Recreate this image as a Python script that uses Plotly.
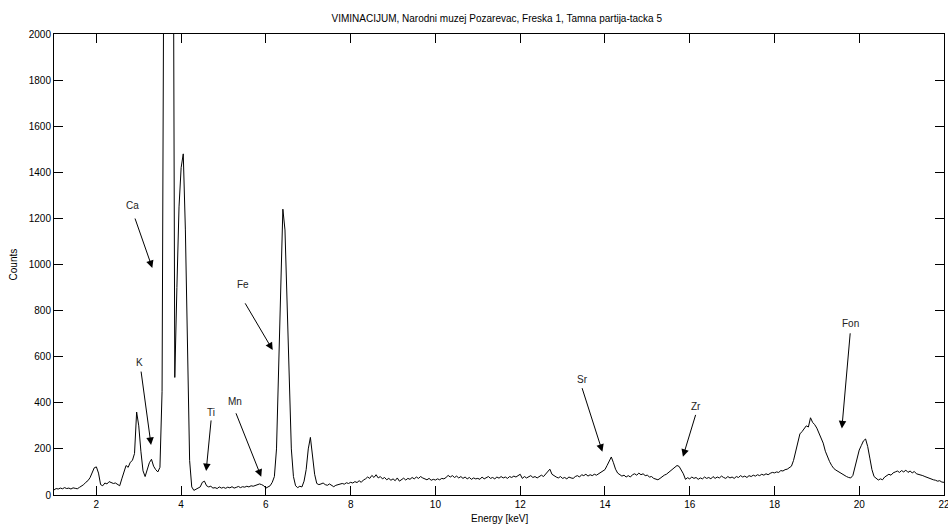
import plotly.graph_objects as go

# ---- data (counts every 0.05 keV, 1.00 .. 22.00 keV) ----
start_energy = 1.0
energy_step = 0.05

counts_01 = [22, 28, 26, 30, 27, 32, 28, 30, 26, 31, 29, 27, 33, 38, 45, 55, 62, 75, 100, 118]
counts_02 = [122, 95, 45, 40, 52, 48, 58, 55, 50, 52, 45, 40, 70, 105, 128, 120, 142, 150, 180, 360]
counts_03 = [300, 190, 105, 80, 110, 140, 155, 125, 110, 100, 120, 450, 2800, 5600, 7000, 5800, 3400, 510, 900, 1250]
counts_04 = [1420, 1480, 1150, 550, 150, 35, 20, 25, 30, 35, 55, 60, 40, 35, 38, 30, 32, 28, 35, 30]
counts_05 = [33, 29, 34, 31, 36, 30, 33, 37, 32, 36, 34, 38, 35, 40, 38, 42, 45, 48, 45, 40]
counts_06 = [30, 35, 40, 55, 80, 200, 520, 950, 1240, 1150, 800, 450, 200, 80, 40, 32, 38, 35, 60, 110]
counts_07 = [200, 250, 180, 90, 50, 45, 48, 52, 45, 42, 48, 40, 36, 42, 45, 48, 50, 47, 53, 50]
counts_08 = [55, 52, 58, 54, 62, 55, 65, 70, 78, 72, 85, 76, 88, 74, 80, 70, 76, 66, 72, 64]
counts_09 = [70, 62, 74, 60, 68, 73, 65, 72, 68, 76, 70, 78, 72, 80, 74, 70, 66, 72, 64, 68]
counts_10 = [65, 70, 66, 72, 70, 76, 85, 78, 84, 76, 82, 74, 80, 72, 78, 70, 76, 68, 74, 70]
counts_11 = [72, 68, 78, 70, 74, 80, 72, 76, 70, 78, 73, 80, 74, 78, 72, 80, 76, 82, 78, 86]
counts_12 = [90, 72, 80, 74, 78, 84, 76, 80, 74, 82, 86, 80, 92, 102, 112, 90, 82, 78, 74, 80]
counts_13 = [72, 76, 70, 78, 74, 72, 80, 84, 78, 88, 84, 90, 82, 88, 84, 90, 86, 92, 96, 104]
counts_14 = [110, 128, 148, 165, 140, 112, 95, 88, 82, 86, 78, 84, 78, 88, 92, 86, 95, 88, 92, 84]
counts_15 = [86, 78, 80, 72, 70, 66, 72, 80, 86, 90, 98, 104, 112, 118, 128, 124, 110, 92, 68, 75]
counts_16 = [70, 78, 72, 76, 68, 74, 70, 78, 72, 76, 70, 80, 72, 78, 74, 82, 76, 72, 80, 74]
counts_17 = [78, 72, 80, 76, 84, 78, 82, 76, 84, 80, 86, 82, 88, 84, 90, 86, 92, 88, 94, 98]
counts_18 = [96, 100, 98, 106, 104, 110, 112, 118, 125, 150, 185, 225, 265, 275, 290, 300, 295, 335, 315, 305]
counts_19 = [290, 270, 250, 225, 190, 165, 145, 128, 115, 108, 102, 95, 90, 84, 80, 76, 74, 85, 120, 160]
counts_20 = [195, 215, 235, 243, 210, 160, 110, 80, 72, 65, 70, 66, 78, 84, 90, 86, 96, 100, 104, 98]
counts_21 = [106, 100, 108, 98, 104, 96, 102, 92, 90, 86, 84, 80, 76, 74, 70, 66, 64, 60, 62, 56]
counts_22 = [55]

x_ticks = [2, 4, 6, 8, 10, 12, 14, 16, 18, 20, 22]
y_ticks = [0, 200, 400, 600, 800, 1000, 1200, 1400, 1600, 1800, 2000]

# peak labels: text position, arrow tail, arrow tip (data coordinates)
labels = ["Ca", "K", "Ti", "Mn", "Fe", "Sr", "Zr", "Fon"]
label_x = [2.86, 3.02, 4.71, 5.28, 5.47, 13.48, 16.14, 19.79]
label_y = [1258, 573, 360, 405, 915, 499, 383, 742]
tail_x = [2.90, 3.05, 4.71, 5.28, 5.49, 13.45, 16.15, 19.79]
tail_y = [1206, 542, 330, 361, 838, 470, 354, 708]
tip_x = [3.32, 3.29, 4.59, 5.89, 6.16, 13.94, 15.84, 19.59]
tip_y = [985, 217, 104, 79, 629, 188, 166, 289]

title_text = "VIMINACIJUM, Narodni muzej Pozarevac, Freska 1, Tamna partija-tacka 5"
x_title = "Energy [keV]"
y_title = "Counts"

# ---- build ----
counts = (counts_01 + counts_02 + counts_03 + counts_04 + counts_05 + counts_06 + counts_07
          + counts_08 + counts_09 + counts_10 + counts_11 + counts_12 + counts_13 + counts_14
          + counts_15 + counts_16 + counts_17 + counts_18 + counts_19 + counts_20 + counts_21
          + counts_22)
energy = [round(start_energy + energy_step * i, 2) for i in range(len(counts))]

font = "Liberation Sans, Arial, Helvetica, sans-serif"
x_range = [1, 22.0001]
y_range = [0, 2000]

fig = go.Figure()
fig.add_trace(go.Scatter(x=energy, y=counts, mode="lines",
                         line=dict(color="black", width=1), showlegend=False,
                         hoverinfo="x+y"))
# invisible companion trace so the top/right tick axes (box ticks) are drawn
fig.add_trace(go.Scatter(x=energy, y=counts, mode="lines", xaxis="x2", yaxis="y2",
                         line=dict(color="rgba(0,0,0,0)", width=0), showlegend=False,
                         hoverinfo="skip"))

annotations = []
for i, lab in enumerate(labels):
    annotations.append(dict(x=tip_x[i], y=tip_y[i], ax=tail_x[i], ay=tail_y[i],
                            xref="x", yref="y", axref="x", ayref="y",
                            text="", showarrow=True, arrowhead=2, arrowsize=1.5,
                            arrowwidth=1, arrowcolor="black", standoff=0, startstandoff=0))
    annotations.append(dict(x=label_x[i], y=label_y[i], xref="x", yref="y",
                            text=lab, showarrow=False, xanchor="center", yanchor="middle",
                            font=dict(family=font, size=10, color="#222")))

annotations.append(dict(x=0.5, y=-0.05, xref="paper", yref="paper", text=x_title,
                        showarrow=False, xanchor="center", yanchor="middle",
                        font=dict(family=font, size=10, color="black")))
annotations.append(dict(x=-0.045, y=0.5, xref="paper", yref="paper", text=y_title,
                        showarrow=False, xanchor="center", yanchor="middle", textangle=-90,
                        font=dict(family=font, size=10, color="black")))

axis_common = dict(showline=True, linecolor="black", linewidth=1, mirror=True,
                   ticks="inside", ticklen=9, tickcolor="black", tickwidth=1,
                   showgrid=False, zeroline=False, automargin=False,
                   ticklabeloverflow="allow",
                   tickfont=dict(family=font, size=10, color="black"))

fig.update_layout(
    width=948, height=524,
    margin=dict(l=54, r=4, t=34, b=29),
    paper_bgcolor="white", plot_bgcolor="white",
    title=dict(text=title_text, x=0.524, xanchor="center", y=0.9656, yanchor="middle",
               xref="container", yref="container",
               font=dict(family=font, size=10, color="black")),
    xaxis=dict(range=x_range, tickvals=x_ticks, **axis_common),
    yaxis=dict(range=y_range, tickvals=y_ticks, **axis_common),
    xaxis2=dict(range=x_range, tickvals=x_ticks, overlaying="x", side="top",
                ticks="inside", ticklen=9, tickcolor="black", tickwidth=1,
                showticklabels=False, showgrid=False, zeroline=False, showline=False),
    yaxis2=dict(range=y_range, tickvals=y_ticks, overlaying="y", side="right",
                ticks="inside", ticklen=9, tickcolor="black", tickwidth=1,
                showticklabels=False, showgrid=False, zeroline=False, showline=False),
    annotations=annotations,
)

# remove the default 8 px page margin so the 948x524 figure fills the window exactly
fig.write_html("out.html",
               config={"displayModeBar": False},
               post_script="document.body.style.margin='0';"
                           "document.body.style.overflow='hidden';")
